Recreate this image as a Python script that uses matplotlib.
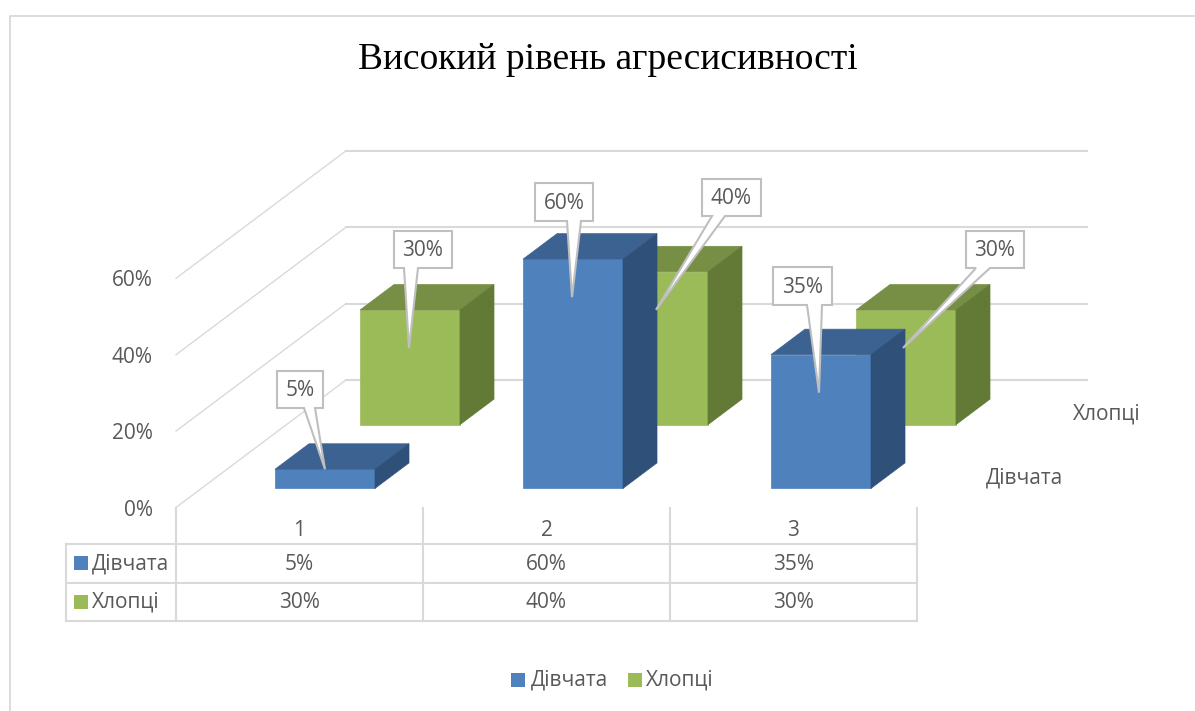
import matplotlib
matplotlib.use('Agg')
import matplotlib.pyplot as plt
from matplotlib.patches import Polygon, Rectangle

# Data
title = 'Високий рівень агресисивності'
categories = ['1', '2', '3']
series_names = ['Дівчата', 'Хлопці']
girls = [5, 60, 35]
boys = [30, 40, 30]
y_ticks = [0, 20, 40, 60]

# Colours: front, top, side
colors_girls = ('#4F81BD', '#3B6291', '#2F5179')
colors_boys = ('#9BBB59', '#778F45', '#637A37')
text_color = '#595959'
grid_color = '#D9D9D9'
call_color = '#BFBFBF'

# Layout of the fake 3d box, in pixels
FRONT_X = 176
FRONT_Y = 507.5
CAT_W = 247
BAR_STEP = 248
DEPTH_X = 170
DEPTH_Y = -127.5
PX_PER_PCT = 3.82
BAR_W = 100
GRID_END = 1087
FONT = 15

fig = plt.figure(figsize=(11.95, 7.11), dpi=100)
plt.rcParams['font.family'] = ['Open Sans', 'DejaVu Sans']
ax = fig.add_axes([0, 0, 1, 1])
ax.set_xlim(0, 1195)
ax.set_ylim(711, 0)
ax.axis('off')


def project(x, depth, value):
    # x - category units, depth - fraction of whole depth, value - percent
    return (FRONT_X + x * CAT_W + depth * DEPTH_X,
            FRONT_Y + depth * DEPTH_Y - value * PX_PER_PCT)


def draw_bar(cat, slot, value, colors):
    d0 = (slot + 0.3) / 2
    d1 = (slot + 0.7) / 2
    half = BAR_W / CAT_W / 2
    center = (cat * BAR_STEP + CAT_W / 2) / CAT_W
    x0, x1 = center - half, center + half
    front = [project(x0, d0, 0), project(x1, d0, 0), project(x1, d0, value), project(x0, d0, value)]
    top = [project(x0, d0, value), project(x1, d0, value), project(x1, d1, value), project(x0, d1, value)]
    side = [project(x1, d0, 0), project(x1, d1, 0), project(x1, d1, value), project(x1, d0, value)]
    for pts, col in zip((front, top, side), colors):
        ax.add_patch(Polygon(pts, closed=True, facecolor=col, edgecolor=col, linewidth=0.5, zorder=3 + 2 - slot))
    return project(cat + 0.5, d0, value)


def callout(box, base, tip, label):
    x0, y0, x1, y1 = box
    pts = [(x0, y0), (x1, y0), (x1, y1), (base[1], y1), tip, (base[0], y1), (x0, y1)]
    ax.add_patch(Polygon(pts, closed=True, facecolor='white', edgecolor=call_color, linewidth=1.5,
                         joinstyle='miter', zorder=10))
    ax.text((x0 + x1) / 2, (y0 + y1) / 2 + 1.5, label, ha='center', va='center', fontsize=FONT,
            color=text_color, zorder=11)


# Chart border
ax.plot([10, 10, 1195], [711, 15.5, 15.5], color=grid_color, lw=1.3, zorder=1)

ax.text(607.5, 60, title, ha='center', va='center', fontsize=27, color='black',
        family=['Liberation Serif'])

# Walls and gridlines
for tick in y_ticks:
    left = project(0, 0, tick)
    back = project(0, 1, tick)
    ax.plot([left[0], back[0]], [left[1], back[1]], color=grid_color, lw=1, zorder=1)
    ax.plot([back[0], GRID_END], [back[1], back[1]], color=grid_color, lw=1.5, zorder=1)
    ax.text(153, left[1] + 2.5, f'{tick}%', ha='right', va='center', fontsize=FONT, color=text_color)

# Bars, back row first
tips = []
for i in range(len(categories)):
    tips.append(draw_bar(i, 1, boys[i], colors_boys))
girl_tips = []
for i in range(len(categories)):
    girl_tips.append(draw_bar(i, 0, girls[i], colors_girls))

# Callouts
girl_drop = [0, 38, 38]
girl_boxes = [(277, 371, 323, 408), (535, 183, 593, 221), (773, 267, 832, 305)]
girl_bases = [(304, 315), (567, 581), (807, 822)]
for i in range(len(categories)):
    tip = (girl_tips[i][0], girl_tips[i][1] + girl_drop[i])
    callout(girl_boxes[i], girl_bases[i], tip, f'{girls[i]}%')

boy_boxes = [(394, 231, 452, 268), (702, 179, 761, 216), (966, 231, 1024, 268)]
boy_bases = [(404, 418), (712, 725), (976, 990)]
for i in range(len(categories)):
    tip = (tips[i][0] - 1, tips[i][1] + 38)
    callout(boy_boxes[i], boy_bases[i], tip, f'{boys[i]}%')

# Depth axis labels
ax.text(1107, 414, series_names[1], ha='center', va='center', fontsize=FONT, color=text_color)
ax.text(1025, 478, series_names[0], ha='center', va='center', fontsize=FONT, color=text_color)

# Data table
row_y = [544, 583, 621]
col_x = [FRONT_X + i * CAT_W for i in range(len(categories) + 1)]
for y in row_y:
    ax.plot([66, col_x[-1]], [y, y], color=grid_color, lw=1.5, zorder=1)
for x in col_x:
    ax.plot([x, x], [508, row_y[-1]], color=grid_color, lw=1.5, zorder=1)
ax.plot([66, 66], [row_y[0], row_y[-1]], color=grid_color, lw=1.5, zorder=1)

for i, cat in enumerate(categories):
    cx = FRONT_X + (i + 0.5) * CAT_W
    ax.text(cx, 530, cat, ha='center', va='center', fontsize=FONT, color=text_color)
    ax.text(cx, 564, f'{girls[i]}%', ha='center', va='center', fontsize=FONT, color=text_color)
    ax.text(cx, 602, f'{boys[i]}%', ha='center', va='center', fontsize=FONT, color=text_color)

key_colors = [colors_girls[0], colors_boys[0]]
for name, col, y in zip(series_names, key_colors, [563, 601.5]):
    ax.add_patch(Rectangle((74, y - 7), 14, 14, facecolor=col, edgecolor='none', zorder=3))
    ax.text(92, y + 0.5, name, ha='left', va='center', fontsize=FONT, color=text_color)

# Legend
for name, col, kx, tx in zip(series_names, key_colors, [511, 628], [531, 646]):
    ax.add_patch(Rectangle((kx, 673), 14, 14, facecolor=col, edgecolor='none', zorder=3))
    ax.text(tx, 680.5, name, ha='left', va='center', fontsize=FONT, color=text_color)

fig.savefig('out.png', dpi=100)
